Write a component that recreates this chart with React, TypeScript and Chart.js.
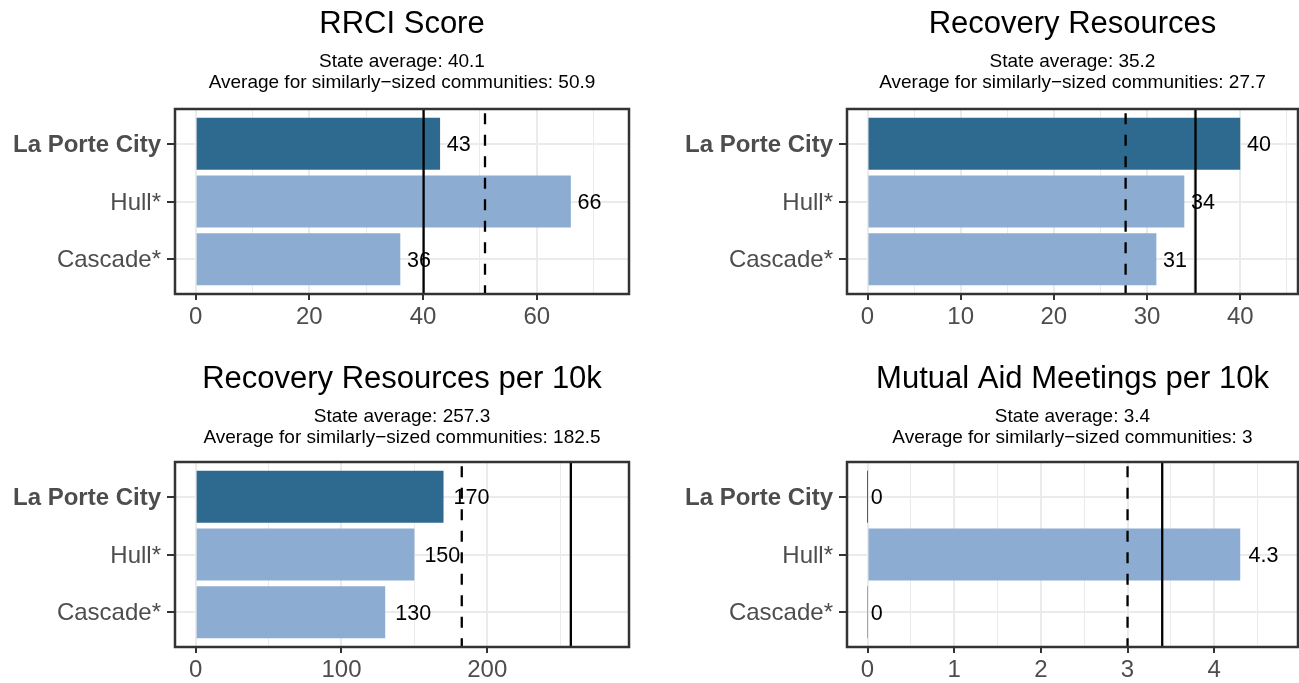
import React, { useEffect, useRef } from "react";
import { Chart, registerables } from "chart.js";

Chart.register(...registerables);

const categories = ["La Porte City", "Hull*", "Cascade*"];
const panelTitles = [
  "RRCI Score",
  "Recovery Resources",
  "Recovery Resources per 10k",
  "Mutual Aid Meetings per 10k",
];
const rrciValues = [43, 66, 36];
const resourcesValues = [40, 34, 31];
const resourcesPer10kValues = [170, 150, 130];
const meetingsPer10kValues = [0, 4.3, 0];
const stateAverages = [40.1, 35.2, 257.3, 3.4];
const similarAverages = [50.9, 27.7, 182.5, 3];
const majorTicks = [
  [0, 20, 40, 60],
  [0, 10, 20, 30, 40],
  [0, 100, 200],
  [0, 1, 2, 3, 4],
];
const minorTicks = [
  [10, 30, 50, 70],
  [5, 15, 25, 35, 45],
  [50, 150, 250],
  [0.5, 1.5, 2.5, 3.5, 4.5],
];
const seriesValues = [rrciValues, resourcesValues, resourcesPer10kValues, meetingsPer10kValues];

const FONT = "'Liberation Sans', Arial, Helvetica, sans-serif";
const DARK = "#2E6A8F";
const LIGHT = "#8CADD1";
const GRID = "#EBEBEB";
const AXIS = "#333333";
const TEXT_GRAY = "#4D4D4D";

const frameAndLines = {
  id: "frameAndLines",
  afterDatasetsDraw(chart: any, _args: any, opts: any) {
    const { ctx, chartArea } = chart;
    const xs = chart.scales.x;
    // value labels
    const meta = chart.getDatasetMeta(0);
    ctx.save();
    ctx.font = `21.5px ${FONT}`;
    ctx.fillStyle = "#000000";
    ctx.textAlign = "left";
    ctx.textBaseline = "middle";
    meta.data.forEach((el: any, i: number) => {
      const v = chart.data.datasets[0].data[i].x;
      const label = String(v);
      const w = ctx.measureText(label).width;
      const x0 = xs.getPixelForValue(v);
      ctx.fillText(label, x0 + 0.28 * w, el.y + 1.5);
    });
    ctx.restore();
    // reference lines
    ctx.save();
    ctx.beginPath();
    ctx.rect(chartArea.left, chartArea.top, chartArea.right - chartArea.left, chartArea.bottom - chartArea.top);
    ctx.clip();
    ctx.strokeStyle = "#000000";
    ctx.lineWidth = 2.3;
    const xs1 = xs.getPixelForValue(opts.state);
    ctx.beginPath();
    ctx.moveTo(xs1, chartArea.top);
    ctx.lineTo(xs1, chartArea.bottom);
    ctx.stroke();
    const xs2 = xs.getPixelForValue(opts.similar);
    ctx.setLineDash([11, 10.5]);
    ctx.lineDashOffset = 17.2;
    ctx.beginPath();
    ctx.moveTo(xs2, chartArea.top);
    ctx.lineTo(xs2, chartArea.bottom);
    ctx.stroke();
    ctx.restore();
    // panel border
    ctx.save();
    ctx.strokeStyle = AXIS;
    ctx.lineWidth = 2.5;
    ctx.strokeRect(chartArea.left, chartArea.top, chartArea.right - chartArea.left, chartArea.bottom - chartArea.top);
    ctx.restore();
  },
};

function Panel({ index }: { index: number }) {
  const ref = useRef<HTMLCanvasElement>(null);
  const col = index % 2;
  const row = Math.floor(index / 2);
  const width = 650;
  const height = row === 0 ? 353 : 330;
  useEffect(() => {
    const values = seriesValues[index];
    const top = Math.max(...values, stateAverages[index], similarAverages[index]) * 1.1;
    const xmin = -0.05 * top;
    const xmax = top * 1.05;
    const major = majorTicks[index];
    const minor = minorTicks[index];
    const allTicks = [...major, ...minor].sort((a, b) => a - b);
    const isMajor = (v: number) => major.some((m) => Math.abs(m - v) < 1e-9);
    const shift = row === 0 ? 0 : 2;
    const chart = new Chart(ref.current as HTMLCanvasElement, {
      type: "bar",
      data: {
        datasets: [
          {
            data: values.map((v, i) => ({ x: v, y: i + 1 })) as any,
            backgroundColor: values.map((_, i) => (i === 0 ? DARK : LIGHT)),
            barPercentage: 0.9,
            categoryPercentage: 1,
            minBarLength: 1,
            borderWidth: 0,
          },
        ],
      },
      options: {
        indexAxis: "y",
        animation: false,
        responsive: false,
        events: [],
        layout: {
          padding: { left: 0, right: col === 0 ? 21 : 24, top: 0, bottom: height - 294 - 36 },
        },
        plugins: {
          legend: { display: false },
          tooltip: { enabled: false },
          title: {
            display: true,
            text: panelTitles[index],
            fullSize: false,
            color: "#000000",
            font: { size: 31, family: FONT, weight: "normal", lineHeight: 1.2 },
            padding: { top: 5.4 + shift, bottom: 0 },
          },
          subtitle: {
            display: true,
            text: [
              `State average: ${stateAverages[index]}`,
              `Average for similarly\u2212sized communities: ${similarAverages[index]}`,
            ],
            fullSize: false,
            color: "#000000",
            font: { size: 19, family: FONT, weight: "normal", lineHeight: 1.12 },
            padding: { top: 8.4, bottom: 15.44 - shift },
          },
          frameAndLines: { state: stateAverages[index], similar: similarAverages[index] },
        } as any,
        scales: {
          x: {
            type: "linear",
            min: xmin,
            max: xmax,
            afterBuildTicks: (s: any) => {
              s.ticks = allTicks.map((v) => ({ value: v }));
            },
            afterFit: (s: any) => {
              s.height = 36;
            },
            ticks: {
              autoSkip: false,
              maxRotation: 0,
              padding: 3,
              color: TEXT_GRAY,
              font: { size: 24, family: FONT },
              callback: (v: any) => (isMajor(Number(v)) ? String(v) : ""),
            },
            grid: {
              color: GRID,
              lineWidth: (c: any) => (c.tick && isMajor(c.tick.value) ? 2 : 1),
              tickLength: 6,
              tickWidth: 2,
              tickColor: (c: any) => (c.tick && isMajor(c.tick.value) ? AXIS : "rgba(0,0,0,0)"),
            },
            border: { display: false },
          },
          y: {
            type: "linear",
            reverse: true,
            min: 0.4,
            max: 3.6,
            offset: false,
            afterBuildTicks: (s: any) => {
              s.ticks = [1, 2, 3].map((v) => ({ value: v }));
            },
            afterFit: (s: any) => {
              s.width = 175;
            },
            ticks: {
              autoSkip: false,
              padding: 6,
              labelOffset: 1.5,
              color: TEXT_GRAY,
              font: (c: any) => ({
                size: 24,
                family: FONT,
                weight: c.tick && c.tick.value === 1 ? "bold" : "normal",
              }),
              callback: (v: any) => categories[Number(v) - 1] ?? "",
            },
            grid: {
              offset: false,
              color: GRID,
              lineWidth: 2,
              tickLength: 8,
              tickWidth: 2,
              tickColor: AXIS,
            },
            border: { display: false },
          },
        } as any,
      },
      plugins: [frameAndLines],
    });
    return () => chart.destroy();
  }, [index]);
  return (
    <canvas
      ref={ref}
      width={width}
      height={height}
      style={{
        position: "absolute",
        left: col * 672,
        top: row * 353,
        width,
        height,
      }}
    />
  );
}

export default function App() {
  return (
    <div
      style={{
        position: "fixed",
        left: 0,
        top: 0,
        width: 1299,
        height: 683,
        overflow: "hidden",
        background: "#ffffff",
      }}
    >
      {[0, 1, 2, 3].map((i) => (
        <Panel key={i} index={i} />
      ))}
    </div>
  );
}
